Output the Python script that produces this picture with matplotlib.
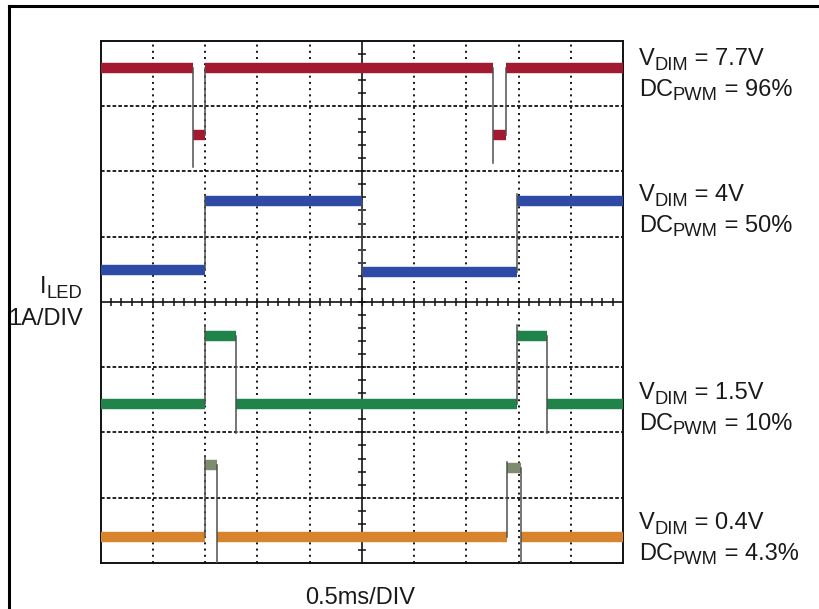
import matplotlib.pyplot as plt
from matplotlib.lines import Line2D
import numpy as np

plt.rcParams['font.family'] = ['Liberation Sans', 'DejaVu Sans']

# time in divisions (0.5ms/DIV), current in divisions (1A/DIV)
# t = switching instants, lvl = plateau between them, edge = far end of each edge
red_t = [0, 1.77, 2.00, 7.51, 7.76, 10]
red_lvl = [7.58, 6.55, 7.58, 6.55, 7.58]
red_edge = [6.06, 7.58, 6.12, 7.58]

blue_t = [0, 2.00, 5.00, 7.97, 10]
blue_lvl = [4.49, 5.55, 4.46, 5.55]
blue_edge = [5.63, 4.43, 5.65]

green_t = [0, 2.00, 2.59, 7.97, 8.55, 10]
green_lvl = [2.43, 3.47, 2.43, 3.47, 2.43]
green_edge = [3.64, 1.99, 3.64, 1.99]

orange_t = [0, 2.00, 2.23, 7.78, 8.05, 10]
orange_lvl = [0.40, 1.50, 0.40, 1.45, 0.40]
orange_edge = [1.62, 0.0, 1.55, 0.0]

vdim = ['7.7V', '4V', '1.5V', '0.4V']
dc_pwm = ['96%', '50%', '10%', '4.3%']

W, H = 819, 609
fig = plt.figure(figsize=(W / 100, H / 100), dpi=100)
ax = fig.add_axes([100.5 / W, (H - 563) / H, 522.5 / W, 522.3 / H])
ax.set_xlim(0, 10)
ax.set_ylim(0, 8)
ax.set_xticks([])
ax.set_yticks([])
for s in ax.spines.values():
    s.set_linewidth(1.4)
    s.set_color('#111111')

# scope graticule
for x in range(1, 10):
    if x != 5:
        ax.axvline(x, color='#111111', lw=1.4, ls=(0, (1, 2.2)), zorder=1)
for y in range(1, 8):
    if y != 4:
        ax.axhline(y, color='#111111', lw=1.3, ls=(0, (2, 1.2)), zorder=1)
ax.axvline(5, color='#111111', lw=1.2, zorder=1)
ax.axhline(4, color='#111111', lw=1.2, zorder=1)
mx = np.arange(0.2, 10, 0.2)
my = np.arange(0.2, 8, 0.2)
ax.plot(mx, np.full_like(mx, 4), ls='none', marker='|', ms=5.5, mew=1.1, color='#111111', zorder=1)
ax.plot(np.full_like(my, 5), my, ls='none', marker='_', ms=5.5, mew=1.1, color='#111111', zorder=1)


def draw_trace(t, lvl, edge, color, top_color=None):
    for i, y in enumerate(lvl):
        c = color
        if top_color is not None and i % 2 == 1:
            c = top_color
        ax.plot([t[i], t[i + 1]], [y, y], color=c, lw=7.5, solid_capstyle='butt', zorder=3)
    for i, e in enumerate(edge):
        lo = min(lvl[i], lvl[i + 1], e)
        hi = max(lvl[i], lvl[i + 1], e)
        ax.plot([t[i + 1], t[i + 1]], [lo, hi], color='#505050', lw=1.1, zorder=4)


draw_trace(red_t, red_lvl, red_edge, '#a3192f')
draw_trace(blue_t, blue_lvl, blue_edge, '#2d4aa5')
draw_trace(green_t, green_lvl, green_edge, '#20834a')
draw_trace(orange_t, orange_lvl, orange_edge, '#d8842c', top_color='#7f8b6e')

tc = '#1a1a1a'
fs = 17
renderer = fig.canvas.get_renderer()


def sub_label(x, yb, main, sub, rest=''):
    # text with a subscript, placed piece by piece (pixel coords from top-left)
    t1 = fig.text(x / W, 1 - yb / H, main, fontsize=fs, color=tc, va='baseline')
    x1 = t1.get_window_extent(renderer).x1
    t2 = fig.text(x1 / W, 1 - (yb + 4.5) / H, sub, fontsize=fs * 0.78, color=tc, va='baseline')
    x2 = t2.get_window_extent(renderer).x1
    if rest:
        fig.text(x2 / W, 1 - yb / H, rest, fontsize=fs, color=tc, va='baseline')


baselines = [(65, 96), (201, 232), (399, 430), (529, 560)]
for (b1, b2), v, d in zip(baselines, vdim, dc_pwm):
    sub_label(639, b1, 'V', 'DIM', ' = ' + v)
    sub_label(639, b2, 'DC', 'PWM', ' = ' + d)

sub_label(40, 293, 'I', 'LED')
fig.text(83 / W, 1 - 325 / H, '1A/DIV', fontsize=fs, color=tc, va='baseline', ha='right')
fig.text(360 / W, 1 - 604 / H, '0.5ms/DIV', fontsize=fs, color=tc, va='baseline', ha='center')

# outer frame (left and top edges visible)
fig.add_artist(Line2D([9 / W, 9 / W], [0, 1 - 6 / H], transform=fig.transFigure, color='k', lw=2.2))
fig.add_artist(Line2D([9 / W, 1], [1 - 6 / H, 1 - 6 / H], transform=fig.transFigure, color='k', lw=2.2))

fig.savefig('out.png', dpi=100)
